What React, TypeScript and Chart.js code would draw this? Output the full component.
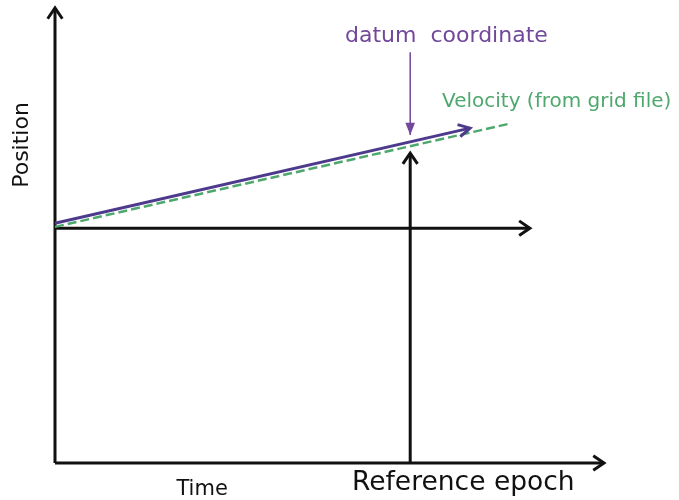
import React, { useEffect, useRef } from "react";
import { Chart, registerables } from "chart.js";

Chart.register(...registerables);

// Diagram values in abstract data units (time, position)
const axisX = [[0, 0], [10, 0]];
const axisY = [[0, 0], [0, 10]];
const baselinePts = [[0, 5.16], [8.65, 5.16]];
const epochPts = [[6.47, 0], [6.47, 6.81]];
const datumPts = [[0, 5.27], [7.56, 7.36]];
const velocityPts = [[0, 5.19], [8.25, 7.45]];
const datumArrowPts = [[6.47, 9.03], [6.47, 7.21]];

const labelTexts = ["datum  coordinate", "Velocity (from grid file)", "Position", "Time", "Reference epoch"];
const labelX = [7.13, 7.05, -0.49, 2.68, 5.41];
const labelY = [9.25, 7.82, 6.99, -0.70, -0.59];

const BLACK = "#111111";
const PURPLE = "#4e3a8c";
const PURPLE_TEXT = "#72489a";
const GREEN = "#4ea86d";

const toXY = (a: number[][]) => a.map(([x, y]) => ({ x, y }));

const arrowPlugin = {
  id: "arrows",
  afterDatasetsDraw(chart: any) {
    const ctx = chart.ctx;
    chart.data.datasets.forEach((ds: any, i: number) => {
      if (!ds.arrow) return;
      const meta = chart.getDatasetMeta(i);
      const pts = meta.data;
      const a = pts[pts.length - 2];
      const b = pts[pts.length - 1];
      const ang = Math.atan2(b.y - a.y, b.x - a.x);
      const len = ds.arrowLen || 12;
      const spread = ds.arrowSpread || 0.6;
      ctx.save();
      ctx.strokeStyle = ds.borderColor;
      ctx.fillStyle = ds.borderColor;
      ctx.lineWidth = ds.borderWidth;
      ctx.setLineDash([]);
      ctx.lineJoin = "miter";
      ctx.lineCap = "butt";
      const p1 = { x: b.x - len * Math.cos(ang - spread), y: b.y - len * Math.sin(ang - spread) };
      const p2 = { x: b.x - len * Math.cos(ang + spread), y: b.y - len * Math.sin(ang + spread) };
      ctx.beginPath();
      if (ds.arrow === "filled") {
        ctx.moveTo(b.x, b.y);
        ctx.lineTo(p1.x, p1.y);
        ctx.lineTo(p2.x, p2.y);
        ctx.closePath();
        ctx.fill();
      } else {
        ctx.moveTo(p1.x, p1.y);
        ctx.lineTo(b.x, b.y);
        ctx.lineTo(p2.x, p2.y);
        ctx.stroke();
      }
      ctx.restore();
    });
  },
};

const labelPlugin = {
  id: "labels",
  afterDraw(chart: any) {
    const ctx = chart.ctx;
    const xs = chart.scales.x;
    const ys = chart.scales.y;
    const styles = [
      { font: "22px 'DejaVu Sans'", color: PURPLE_TEXT, align: "center", rot: 0 },
      { font: "20px 'DejaVu Sans'", color: GREEN, align: "left", rot: 0 },
      { font: "22px 'DejaVu Sans'", color: BLACK, align: "center", rot: -Math.PI / 2 },
      { font: "21px 'DejaVu Sans'", color: BLACK, align: "center", rot: 0 },
      { font: "26.5px 'DejaVu Sans'", color: BLACK, align: "left", rot: 0 },
    ];
    labelTexts.forEach((t, i) => {
      const s = styles[i];
      ctx.save();
      ctx.font = s.font;
      ctx.fillStyle = s.color;
      ctx.textAlign = s.align;
      ctx.textBaseline = "alphabetic";
      ctx.translate(xs.getPixelForValue(labelX[i]), ys.getPixelForValue(labelY[i]));
      ctx.rotate(s.rot);
      ctx.fillText(t, 0, 0);
      ctx.restore();
    });
  },
};

export default function App() {
  const ref = useRef<HTMLCanvasElement>(null);
  useEffect(() => {
    document.body.style.margin = "0";
    const line = (data: number[][], color: string, width: number, extra: any = {}) => ({
      type: "line",
      data: toXY(data),
      borderColor: color,
      backgroundColor: color,
      borderWidth: width,
      pointRadius: 0,
      showLine: true,
      fill: false,
      tension: 0,
      clip: false,
      ...extra,
    });
    const chart = new Chart(ref.current!, {
      type: "scatter",
      data: {
        datasets: [
          line(velocityPts, GREEN, 2.5, { borderDash: [9, 4] }),
          line(datumPts, PURPLE, 3, { arrow: "open", arrowLen: 13, arrowSpread: 0.5 }),
          line(axisX, BLACK, 3, { arrow: "open", arrowLen: 13, arrowSpread: 0.6 }),
          line(axisY, BLACK, 3, { arrow: "open", arrowLen: 13, arrowSpread: 0.6 }),
          line(baselinePts, BLACK, 3, { arrow: "open", arrowLen: 13, arrowSpread: 0.6 }),
          line(epochPts, BLACK, 3, { arrow: "open", arrowLen: 13, arrowSpread: 0.6 }),
          line(datumArrowPts, PURPLE_TEXT, 1.5, { arrow: "filled", arrowLen: 13, arrowSpread: 0.38 }),
        ] as any,
      },
      options: {
        animation: false,
        responsive: true,
        maintainAspectRatio: false,
        layout: { padding: { left: 55, right: 75, top: 8, bottom: 37 } },
        plugins: { legend: { display: false }, tooltip: { enabled: false } },
        scales: {
          x: { type: "linear", min: 0, max: 10, display: false },
          y: { type: "linear", min: 0, max: 10, display: false },
        },
      },
      plugins: [arrowPlugin, labelPlugin],
    });
    return () => chart.destroy();
  }, []);
  return (
    <div style={{ position: "absolute", left: 0, top: 0, width: 679, height: 500, background: "#fff" }}>
      <canvas ref={ref} />
    </div>
  );
}
